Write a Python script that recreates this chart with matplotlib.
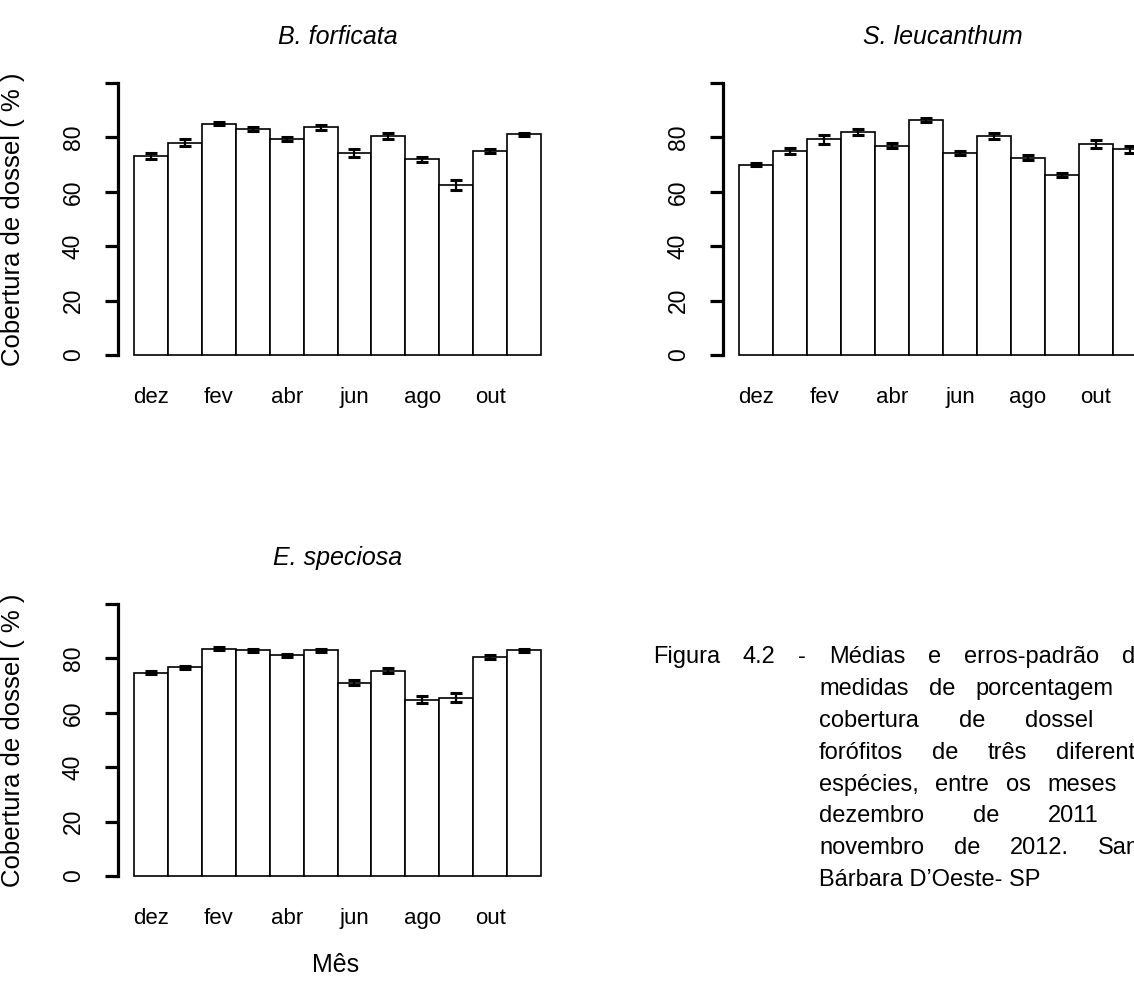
import matplotlib
matplotlib.use('Agg')
import matplotlib.pyplot as plt
import numpy as np

plt.rcParams['font.family'] = ['Liberation Sans', 'DejaVu Sans']

# monthly canopy cover (%) - means and standard errors
months = ['dez', 'jan', 'fev', 'mar', 'abr', 'mai', 'jun', 'jul', 'ago', 'set', 'out', 'nov']
bforficata_mean = [73.2, 78.0, 85.0, 83.1, 79.3, 83.7, 74.3, 80.5, 71.9, 62.5, 75.0, 81.1]
bforficata_se = [1.0, 1.3, 0.6, 0.9, 0.7, 0.9, 1.6, 1.0, 1.0, 2.0, 0.9, 0.6]
sleucanthum_mean = [70.0, 75.0, 79.3, 81.9, 77.0, 86.4, 74.3, 80.6, 72.5, 66.2, 77.5, 75.6]
sleucanthum_se = [0.6, 1.1, 1.6, 1.1, 0.8, 0.6, 0.6, 1.2, 0.85, 0.85, 1.5, 1.4]
especiosa_mean = [74.8, 76.7, 83.6, 83.0, 81.1, 83.0, 71.1, 75.5, 64.8, 65.5, 80.5, 83.0]
especiosa_se = [0.5, 0.5, 0.5, 0.5, 0.5, 0.5, 0.8, 1.0, 1.3, 1.65, 0.8, 0.55]

y_ticks = [0, 20, 40, 60, 80, 100]
y_ticklabels = ['0', '20', '40', '60', '80', '']

caption_lines = [
    'Figura 4.2 - Médias e erros-padrão das',
    'medidas de porcentagem de',
    'cobertura de dossel de',
    'forófitos de três diferentes',
    'espécies, entre os meses de',
    'dezembro de 2011 a',
    'novembro de 2012. Santa',
    'Bárbara D\u2019Oeste- SP',
]

W, H = 1134, 981
DPI = 100
fig = plt.figure(figsize=(W / DPI, H / DPI), dpi=DPI)
fig.patch.set_facecolor('white')


def px_axes(x0, x1, ytop, ybot):
    """axes from pixel box (origin top-left)"""
    return fig.add_axes([x0 / W, 1 - ybot / H, (x1 - x0) / W, (ybot - ytop) / H])


def bar_panel(ax, means, se, title, ylabel=None):
    x = np.arange(len(months))
    ax.bar(x, means, width=1.0, color='white', edgecolor='black',
           linewidth=1.2, clip_on=False, zorder=2)
    ax.errorbar(x, means, yerr=se, fmt='none', ecolor='black',
                elinewidth=1.6, capsize=4.5, capthick=2.2, clip_on=False, zorder=3)
    ax.set_xlim(-0.5, len(months) - 0.5)
    ax.set_ylim(0, 100)
    for side in ['top', 'right', 'bottom']:
        ax.spines[side].set_visible(False)
    ax.spines['left'].set_position(('outward', 11.5))
    ax.spines['left'].set_linewidth(2.3)
    ax.spines['left'].set_bounds(0, 100)
    ax.set_yticks(y_ticks)
    ax.set_yticklabels(y_ticklabels, rotation=90, va='center', fontsize=16.5)
    ax.tick_params(axis='y', length=9.4, width=2.3, pad=14.5)
    ax.set_xticks(x[::2])
    ax.set_xticklabels(months[::2], fontsize=16)
    ax.tick_params(axis='x', length=0, pad=23)
    ax.set_title(title, fontsize=18, style='italic', pad=28)
    ax.patch.set_visible(False)
    if ylabel:
        ax.set_ylabel(ylabel, fontsize=18.5, labelpad=10)


ylab = 'Cobertura de dossel ( % )'
ax1 = px_axes(134, 541, 83, 355)
bar_panel(ax1, bforficata_mean, bforficata_se, 'B. forficata', ylab)
ax2 = px_axes(739, 1147, 83, 355)
bar_panel(ax2, sleucanthum_mean, sleucanthum_se, 'S. leucanthum')
ax3 = px_axes(134, 541, 604, 876)
bar_panel(ax3, especiosa_mean, especiosa_se, 'E. speciosa', ylab)

# place the y labels at the same x as in the original
for ax, yc in [(ax1, 219), (ax3, 740)]:
    ax.yaxis.set_label_coords(25 / W, 1 - yc / H, transform=fig.transFigure)

fig.text(336 / W, 1 - 965 / H, 'Mês', fontsize=18, ha='center', va='center')

# justified caption, cut by the right edge like the original
renderer = fig.canvas.get_renderer()
cap_size = 17
right_px = 1160
for i, line in enumerate(caption_lines):
    x0 = 653 if i == 0 else 819
    yc = 1 - (657 + 31.9 * i) / H
    words = line.split(' ')
    if i == len(caption_lines) - 1:
        fig.text(x0 / W, yc, line, fontsize=cap_size, ha='left', va='center')
        continue
    texts = [fig.text(0, yc, w, fontsize=cap_size, ha='left', va='center') for w in words]
    widths = [t.get_window_extent(renderer).width for t in texts]
    gap = (right_px - x0 - sum(widths)) / (len(words) - 1)
    pos = x0
    for t, w in zip(texts, widths):
        t.set_x(pos / W)
        pos += w + gap

fig.savefig('out.png', dpi=DPI, facecolor='white')
